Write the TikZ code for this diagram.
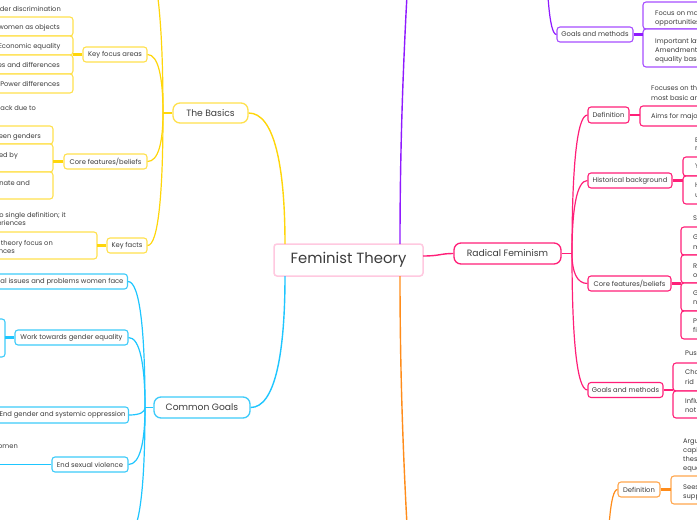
\documentclass[tikz,border=0pt]{standalone}
\usepackage{fontspec}
\setmainfont{Poppins}
\usetikzlibrary{calc}
\definecolor{ink}{HTML}{3C3C3C}
\definecolor{yl}{HTML}{FFD60A}
\definecolor{ylb}{HTML}{FFE14D}
\definecolor{bl}{HTML}{1EC6FF}
\definecolor{blb}{HTML}{3DCBFA}
\definecolor{pk}{HTML}{FF1F78}
\definecolor{pu}{HTML}{8F1AFF}
\definecolor{pub}{HTML}{A64DFF}
\definecolor{orc}{HTML}{FF8C1A}
\definecolor{orb}{HTML}{FFA64D}
\definecolor{ctb}{HTML}{FFC9E0}
\newcommand\mmlink[3]{\draw[#1] (#2) .. controls ($(#2)!0.6!(#2|-#3)$) and ($(#3)!0.7!(#2|-#3)$) .. (#3);}
\begin{document}
\begin{tikzpicture}[x=1pt,y=-1pt,
  txt/.style={inner sep=0pt,font=\fontsize{6.7}{8}\selectfont,text=ink,text height=4.7pt,text depth=1.4pt},
  sub/.style={draw,fill=white,rounded corners=3pt,line width=1.1pt,inner sep=0pt,font=\fontsize{6.8}{8}\selectfont,text=ink,minimum height=15pt},
  lvl/.style={draw,fill=white,rounded corners=7pt,line width=1.3pt,inner sep=0pt,font=\fontsize{9.2}{11}\selectfont,text=ink},
  lnk/.style={line width=1.2pt},
  bar/.style={line width=2.2pt},
  row/.style={fill=white,rounded corners=3pt,line width=1.1pt}]
\useasboundingbox (0,0) rectangle (697,520);
\clip (0,0) rectangle (697,520);
\fill[white] (0,0) rectangle (697,520);

% ---------- bracket rows (drawn first) ----------
% yellow
\draw[row,draw=ylb] (-40,17) rectangle (73,36);
\draw[row,draw=ylb] (-40,36) rectangle (73,55);
\draw[row,draw=ylb] (-40,55) rectangle (73,74);
\draw[row,draw=ylb] (-40,74) rectangle (73,93);
\draw[row,draw=ylb] (-40,126) rectangle (53,144);
\draw[row,draw=ylb] (-40,144) rectangle (53,172);
\draw[row,draw=ylb] (-40,172) rectangle (53,199);
\draw[row,draw=ylb] (-40,232) rectangle (97,259);
% blue
\draw[row,draw=blb] (-50,319) rectangle (5,357);
% purple
\draw[row,draw=pub] (643,2) rectangle (760,29);
\draw[row,draw=pub] (643,29) rectangle (760,67);
% pink
\draw[row,draw=pk] (640,106) rectangle (760,126);
\draw[row,draw=pk] (683,157) rectangle (760,176);
\draw[row,draw=pk] (683,176) rectangle (760,204);
\draw[row,draw=pk] (681,227) rectangle (760,255);
\draw[row,draw=pk] (681,255) rectangle (760,283);
\draw[row,draw=pk] (681,283) rectangle (760,311);
\draw[row,draw=pk] (681,311) rectangle (760,339);
\draw[row,draw=pk] (673,363) rectangle (760,391);
\draw[row,draw=pk] (673,391) rectangle (760,418);
% orange
\draw[row,draw=orb] (671,476) rectangle (760,504);

% ---------- main nodes ----------
\node[draw=ctb,fill=white,rounded corners=3pt,line width=1.5pt,minimum width=149pt,minimum height=32pt,inner sep=0pt,font=\fontsize{14.8}{16}\selectfont,text=ink] (ft) at (348.5,260) {Feminist Theory};
\node[lvl,draw=ylb,minimum width=75pt,minimum height=20pt] (basics) at (210.5,113) {The Basics};
\node[lvl,draw=blb,minimum width=96pt,minimum height=21pt] (cg) at (202,407.5) {Common Goals};
\node[lvl,draw=pk,minimum width=107pt,minimum height=21pt] (rf) at (507.5,253.5) {Radical Feminism};

% yellow subs
\node[sub,draw=ylb,minimum width=64pt] (kfa) at (115,54.5) {Key focus areas};
\node[sub,draw=ylb,minimum width=83pt] (cfb) at (105.5,161.5) {Core features/beliefs};
\node[sub,draw=ylb,minimum width=40pt] (kf) at (127,245.5) {Key facts};
% blue subs
\node[sub,draw=blb,anchor=east,inner xsep=4pt] (iss) at (128,281.5) {Raise awareness of social issues and problems women face};
\node[sub,draw=blb,minimum width=113pt] (wtg) at (71.5,337.5) {Work towards gender equality};
\node[sub,draw=blb,minimum width=132pt,minimum height=16pt] (opp) at (62.5,415) {End gender and systemic oppression};
\node[sub,draw=blb,minimum width=76pt] (sv) at (90,464.5) {End sexual violence};
% pink subs
\node[sub,draw=pk,minimum width=41pt,minimum height=16pt] (def) at (608.5,115) {Definition};
\node[sub,draw=pk,minimum width=84pt] (hb) at (630,180.5) {Historical background};
\node[sub,draw=pk,minimum width=83pt] (cf2) at (629.5,283.5) {Core features/beliefs};
\node[sub,draw=pk,minimum width=75pt] (gm2) at (625.5,390) {Goals and methods};
% purple sub
\node[sub,draw=pub,minimum width=76pt] (gm1) at (595,34.5) {Goals and methods};
% orange sub
\node[sub,draw=orb,minimum width=42pt] (od) at (639,489.5) {Definition};

% ---------- texts: left side ----------
\node[txt,anchor=east] (y1) at (61,9.5) {Gender discrimination};
\node[txt,anchor=east] (y2) at (60,28) {Treatment of women as objects};
\node[txt,anchor=east] (y3) at (60.5,47) {Economic equality};
\node[txt,anchor=east] (y4) at (60,66) {Similarities and differences};
\node[txt,anchor=east] (y5) at (60,85) {Power differences};
\node[txt,anchor=east] (y6) at (36,109) {Women are held back due to};
\node[txt,anchor=east] (y7) at (41,136.5) {Inequality between genders};
\node[txt,anchor=east] (y8) at (18,156) {Women are oppressed by};
\node[txt,anchor=east] (y9) at (30,184) {Men dominate and};
\node[txt,anchor=east] (y10) at (66,215.5) {There is no single definition; it};
\node[txt,anchor=east] (y11) at (26,224) {covers many experiences};
\node[txt,anchor=east] (y12) at (53,244) {Different branches of theory focus on};
\node[txt,anchor=east] (y13) at (15,252) {different experiences};
\node[txt,anchor=east] (b1) at (18,447) {Protect women};

% ---------- texts: right side ----------
\node[txt,anchor=west] (p1) at (655,14) {Focus on making equal};
\node[txt,anchor=west] (p2) at (655,23) {opportunities for all};
\node[txt,anchor=west] (p3) at (655,42) {Important laws like the};
\node[txt,anchor=west] (p4) at (655,51) {Amendment promoting};
\node[txt,anchor=west] (p5) at (655,60) {equality based on sex};
\node[txt,anchor=west] (r1) at (651,89) {Focuses on the root};
\node[txt,anchor=west] (r2) at (651,99) {most basic areas};
\node[txt,anchor=west] (r3) at (651,116.5) {Aims for major change};
\node[txt,anchor=west] (r4) at (695,141) {Emerged};
\node[txt,anchor=west] (r5) at (695,149) {radical};
\node[txt,anchor=west] (r6) at (695,167) {Young};
\node[txt,anchor=west] (r7) at (695,186) {Helped};
\node[txt,anchor=west] (r8) at (695,196) {united};
\node[txt,anchor=west] (r9) at (693,219) {Sees};
\node[txt,anchor=west] (r10) at (693,238) {Gender};
\node[txt,anchor=west] (r11) at (693,248) {men};
\node[txt,anchor=west] (r12) at (693,267) {Rejects};
\node[txt,anchor=west] (r13) at (693,276) {oppression};
\node[txt,anchor=west] (r14) at (693,294) {Gender};
\node[txt,anchor=west] (r15) at (693,303) {norms};
\node[txt,anchor=west] (r16) at (693,322) {Patriarchy};
\node[txt,anchor=west] (r17) at (693,331) {first};
\node[txt,anchor=west] (r18) at (685,354) {Push};
\node[txt,anchor=west] (r19) at (685,373) {Change};
\node[txt,anchor=west] (r20) at (685,382.5) {rid};
\node[txt,anchor=west] (r21) at (685,402) {Influence};
\node[txt,anchor=west] (r22) at (685,411) {not};
\node[txt,anchor=west] (o1) at (683,442) {Argues};
\node[txt,anchor=west] (o2) at (683,451) {capitalism};
\node[txt,anchor=west] (o3) at (683,460) {these};
\node[txt,anchor=west] (o4) at (683,469) {equality};
\node[txt,anchor=west] (o5) at (683,488) {Sees};
\node[txt,anchor=west] (o6) at (683,497) {support};

% ---------- coordinates ----------
\coordinate (ftnl) at (285,244);
\coordinate (ftnr) at (400,244);
\coordinate (ftsl) at (285,276);
\coordinate (ftsr) at (400,276);
\coordinate (fte) at (423,256);
\coordinate (pup) at (409,-40);
\coordinate (odn) at (409,560);
\coordinate (ys) at (163,113);
\coordinate (ytop) at (140,-50);
\coordinate (bs) at (145,407.5);
\coordinate (bbot) at (128,535);
\coordinate (ps) at (572,253.5);
\coordinate (pupar) at (546,-80);
\coordinate (orpar) at (607,600);
\coordinate (kfab) at (73,54.5);
\coordinate (cfbb) at (53,161.5);
\coordinate (kfb) at (97,245.5);
\coordinate (wtgb) at (5,337.5);
\coordinate (svb) at (-10,464.5);
\coordinate (defb) at (640,115);
\coordinate (hbb) at (683,180.5);
\coordinate (cf2b) at (681,283.5);
\coordinate (gm2b) at (673,390);
\coordinate (gm1b) at (643,34.5);
\coordinate (odb) at (671,489.5);

% ---------- connectors ----------
\mmlink{lnk,yl,line width=1.4pt}{ftnl}{basics.east}
\mmlink{lnk,bl,line width=1.4pt}{ftsl}{cg.east}
\draw[lnk,pu,line width=1.4pt] (ftnr) .. controls (400,150) and (403,60) .. (pup);
\draw[lnk,orc,line width=1.4pt] (ftsr) .. controls (400,370) and (403,460) .. (odn);
\draw[lnk,pk,line width=1.4pt] (fte) .. controls (440,256) and (440,253.5) .. (rf.west);

\draw[lnk,yl] (basics.west) -- (ys);
\mmlink{lnk,yl}{ys}{kfa.east}
\mmlink{lnk,yl}{ys}{cfb.east}
\mmlink{lnk,yl}{ys}{kf.east}
\mmlink{lnk,yl}{ys}{ytop}

\draw[lnk,bl] (cg.west) -- (bs);
\mmlink{lnk,bl}{bs}{iss.east}
\mmlink{lnk,bl}{bs}{wtg.east}
\mmlink{lnk,bl}{bs}{opp.east}
\mmlink{lnk,bl}{bs}{sv.east}
\mmlink{lnk,bl}{bs}{bbot}

\draw[lnk,pk] (rf.east) -- (ps);
\mmlink{lnk,pk}{ps}{def.west}
\mmlink{lnk,pk}{ps}{hb.west}
\mmlink{lnk,pk}{ps}{cf2.west}
\mmlink{lnk,pk}{ps}{gm2.west}

\mmlink{lnk,pu}{pupar}{gm1.west}
\mmlink{lnk,orc}{orpar}{od.west}

\draw[bar,yl] (kfa.west) -- (kfab);
\draw[bar,yl] (cfb.west) -- (cfbb);
\draw[bar,yl] (kf.west) -- (kfb);
\draw[bar,bl] (wtg.west) -- (wtgb);
\draw[lnk,bl] (sv.west) -- (svb);
\draw[bar,pk] (def.east) -- (defb);
\draw[bar,pk] (hb.east) -- (hbb);
\draw[bar,pk] (cf2.east) -- (cf2b);
\draw[bar,pk] (gm2.east) -- (gm2b);
\draw[bar,pu] (gm1.east) -- (gm1b);
\draw[bar,orc] (od.east) -- (odb);
\end{tikzpicture}
\end{document}
